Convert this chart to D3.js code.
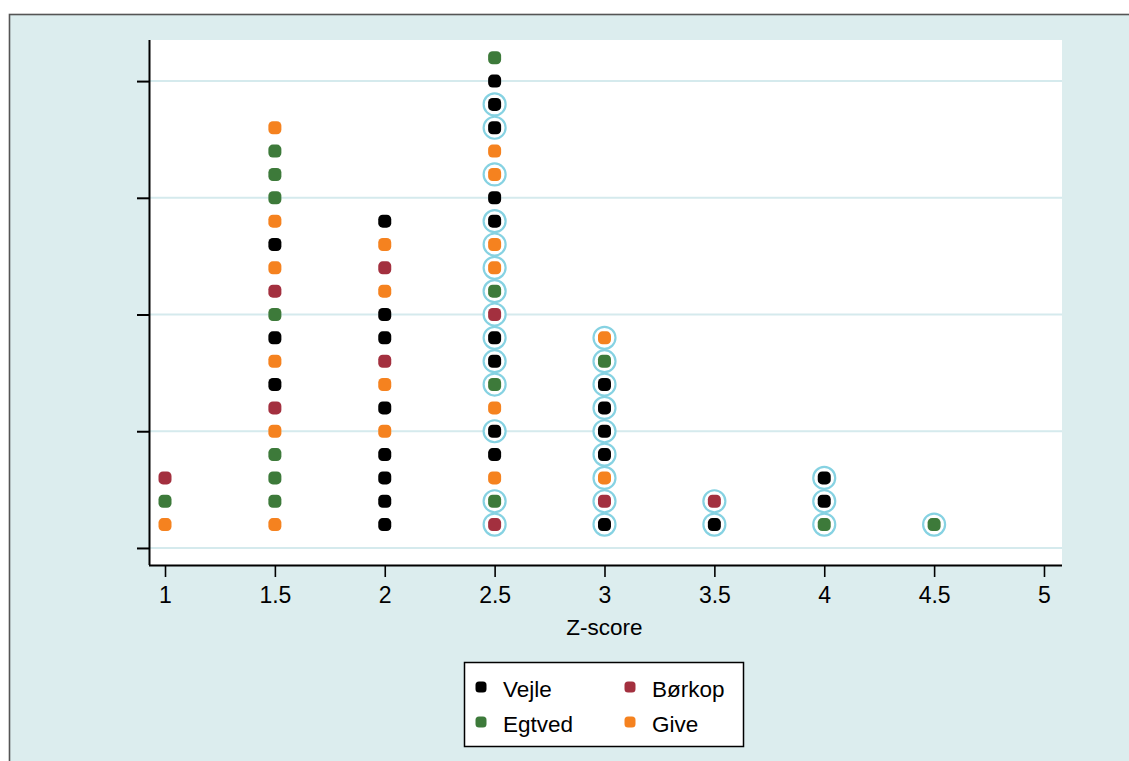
<!DOCTYPE html>
<html>
<head>
<meta charset="utf-8">
<script src="https://cdn.jsdelivr.net/npm/d3@7"></script>
<style>
  html, body { margin: 0; padding: 0; background: #ffffff; }
  svg { display: block; }
  text { font-family: "Liberation Sans", Arial, sans-serif; fill: #000; }
</style>
</head>
<body>
<svg id="chart" width="1129" height="761"></svg>
<script>
// Towns and their marker colours
const towns = ["Vejle", "Egtved", "Børkop", "Give"];
const townColors = ["#000000", "#3d7a3a", "#a3303f", "#f5821f"];

// Z-score columns; each stack lists towns from the bottom dot upwards
const zScores = [1, 1.5, 2, 2.5, 3, 3.5, 4, 4.5];
const stack_1_0 = ["Give", "Egtved", "Børkop"];
const stack_1_5 = ["Give", "Egtved", "Egtved", "Egtved", "Give", "Børkop", "Vejle", "Give", "Vejle",
                   "Egtved", "Børkop", "Give", "Vejle", "Give", "Egtved", "Egtved", "Egtved", "Give"];
const stack_2_0 = ["Vejle", "Vejle", "Vejle", "Vejle", "Give", "Vejle", "Give", "Børkop", "Vejle",
                   "Vejle", "Give", "Børkop", "Give", "Vejle"];
const stack_2_5 = ["Børkop", "Egtved", "Give", "Vejle", "Vejle", "Give", "Egtved", "Vejle", "Vejle",
                   "Børkop", "Egtved", "Give", "Give", "Vejle", "Vejle", "Give", "Give", "Vejle",
                   "Vejle", "Vejle", "Egtved"];
const stack_3_0 = ["Vejle", "Børkop", "Give", "Vejle", "Vejle", "Vejle", "Vejle", "Egtved", "Give"];
const stack_3_5 = ["Vejle", "Børkop"];
const stack_4_0 = ["Egtved", "Vejle", "Vejle"];
const stack_4_5 = ["Egtved"];

// Which dots are ringed (1 = ringed), same order as the stacks
const ring_1_0 = [0, 0, 0];
const ring_1_5 = new Array(18).fill(0);
const ring_2_0 = new Array(14).fill(0);
const ring_2_5 = [1, 1, 0, 0, 1, 0, 1, 1, 1, 1, 1, 1, 1, 1, 0, 1, 0, 1, 1, 0, 0];
const ring_3_0 = [1, 1, 1, 1, 1, 1, 1, 1, 1];
const ring_3_5 = [1, 1];
const ring_4_0 = [1, 1, 1];
const ring_4_5 = [1];

const stacks = [stack_1_0, stack_1_5, stack_2_0, stack_2_5, stack_3_0, stack_3_5, stack_4_0, stack_4_5];
const rings  = [ring_1_0, ring_1_5, ring_2_0, ring_2_5, ring_3_0, ring_3_5, ring_4_0, ring_4_5];

// Axis ticks
const xTicks = [1, 1.5, 2, 2.5, 3, 3.5, 4, 4.5, 5];
const yTicks = [0, 5, 10, 15, 20];
const xTitle = "Z-score";

const svg = d3.select("#chart");
const W = 1129, H = 761;
const plot = { left: 150, right: 1062, top: 40, bottom: 565 };

// Outer panel
svg.append("rect").attr("x", 0).attr("y", 0).attr("width", W).attr("height", H).attr("fill", "#ffffff");
svg.append("rect").attr("x", 9.5).attr("y", 14.5).attr("width", W + 10).attr("height", H + 10)
  .attr("fill", "#dcedee").attr("stroke", "#555555").attr("stroke-width", 1.6);

// Plot region
svg.append("rect").attr("x", plot.left).attr("y", plot.top)
  .attr("width", plot.right - plot.left).attr("height", plot.bottom - plot.top)
  .attr("fill", "#ffffff");

const x = d3.scaleLinear().domain([0.9317, 5.082]).range([plot.left, plot.right]);
const y = d3.scaleLinear().domain([-0.73, 21.76]).range([plot.bottom, plot.top]);

// Horizontal grid
svg.append("g").selectAll("line").data(yTicks).join("line")
  .attr("x1", plot.left).attr("x2", plot.right)
  .attr("y1", d => y(d)).attr("y2", d => y(d))
  .attr("stroke", "#d5eaed").attr("stroke-width", 2);

// Axes
const yAxis = d3.axisLeft(y).tickValues(yTicks).tickSize(13).tickFormat("");
svg.append("g").attr("transform", `translate(${plot.left},0)`).call(yAxis)
  .call(g => g.select(".domain").attr("d", `M-0.5,${plot.top}V${plot.bottom}`).attr("stroke-width", 2))
  .call(g => g.selectAll(".tick line").attr("stroke-width", 2));

const xAxis = d3.axisBottom(x).tickValues(xTicks).tickSize(12).tickPadding(10).tickFormat(d3.format("~g"));
svg.append("g").attr("transform", `translate(0,${plot.bottom})`).call(xAxis)
  .call(g => g.select(".domain").attr("d", `M${plot.left - 1},0.5H${plot.right}`).attr("stroke-width", 2))
  .call(g => g.selectAll(".tick line").attr("stroke-width", 1.6))
  .call(g => g.selectAll(".tick text")
    .attr("font-family", "Liberation Sans, Arial, sans-serif")
    .attr("font-size", 23).attr("fill", "#000"));

svg.append("text").attr("x", x(3)).attr("y", 635).attr("text-anchor", "middle")
  .attr("font-size", 22.5).text(xTitle);

// Dots
const points = [];
stacks.forEach((s, i) => s.forEach((town, k) => points.push({
  z: zScores[i], count: k + 1, town, ring: rings[i][k]
})));

const color = d3.scaleOrdinal().domain(towns).range(townColors);

svg.append("g").selectAll("circle").data(points.filter(p => p.ring)).join("circle")
  .attr("cx", d => x(d.z)).attr("cy", d => y(d.count)).attr("r", 11)
  .attr("fill", "#ffffff").attr("stroke", "#86d2e2").attr("stroke-width", 2.2);

const ds = 13;
svg.append("g").selectAll("rect").data(points).join("rect")
  .attr("x", d => x(d.z) - ds / 2).attr("y", d => y(d.count) - ds / 2)
  .attr("width", ds).attr("height", ds).attr("rx", 4.5)
  .attr("fill", d => color(d.town));

// Legend
const lg = svg.append("g");
lg.append("rect").attr("x", 464.5).attr("y", 662.5).attr("width", 279).attr("height", 84)
  .attr("fill", "#ffffff").attr("stroke", "#000").attr("stroke-width", 1.5);
const legendPos = [
  { dx: 481, ty: 697 }, { dx: 481, ty: 732 }, { dx: 630, ty: 697 }, { dx: 630, ty: 732 }
];
towns.forEach((t, i) => {
  const p = legendPos[i];
  lg.append("rect").attr("x", p.dx - 5.5).attr("y", p.ty - 15.5).attr("width", 11).attr("height", 11)
    .attr("rx", 3.5).attr("fill", color(t));
  lg.append("text").attr("x", p.dx + 22).attr("y", p.ty).attr("font-size", 22.5).text(t);
});
</script>
</body>
</html>
